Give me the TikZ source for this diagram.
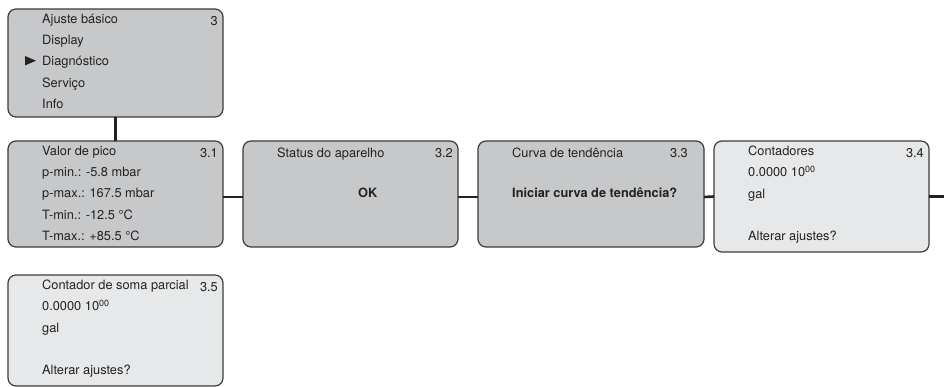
\documentclass[tikz,border=0pt]{standalone}
\usepackage{fontspec}
\setmainfont{TeX Gyre Heros}
\usepackage{tikz}
\usetikzlibrary{positioning}
\definecolor{ink}{HTML}{222222}
\definecolor{frame}{HTML}{3C3C3C}
\definecolor{menugray}{HTML}{C7C8CA}
\definecolor{lightgray}{HTML}{E7E8E9}
\tikzset{
  menubox/.style={draw=frame,line width=1.2pt,rounded corners=8pt,fill=menugray,
    inner sep=0pt,outer sep=0pt,minimum width=215pt,minimum height=106pt},
  countbox/.style={menubox,fill=lightgray,minimum height=111pt},
  rows/.style={font=\fontsize{12.8}{21.2}\selectfont,align=left,inner sep=0pt,
    text=ink,anchor=north west,execute at begin node={\rule{0pt}{11pt}}},
  boxno/.style={font=\fontsize{12.8}{15}\selectfont,inner sep=0pt,text=ink,
    anchor=base east},
  link/.style={line width=2.6pt,draw=ink}
}

\begin{document}
\begin{tikzpicture}[x=1pt,y=-1pt]
  \useasboundingbox (0,0) rectangle (944,387);
  \node[menubox,minimum height=108pt,anchor=north west] (menu) at (8,9) {};
  \node[menubox,below=24pt of menu] (peak) {};
  \node[menubox,right=20pt of peak] (status) {};
  \node[menubox,right=20pt of status,minimum width=226pt] (trend) {};
  \node[countbox,anchor=north west] (counter) at ([xshift=10pt]trend.north east) {};
  \node[countbox,below=28pt of peak] (partial) {};
  \coordinate (exit) at (944,196.5);

  \node[rows] (menutxt) at ([shift={(34pt,-5pt)}]menu.north west)
    {Ajuste básico\\Display\\Diagnóstico\\Serviço\\Info};
  \node[boxno] (menuno) at ([shift={(210pt,-16.5pt)}]menu.north west) {3};
  \fill[ink] ([shift={(17pt,-47pt)}]menu.north west) -- ++(11pt,-4.7pt)
    -- ++(-11pt,-4.7pt) -- cycle;

  \node[rows] (peaktxt) at ([shift={(34pt,-5pt)}]peak.north west)
    {Valor de pico\\p-min.: -5.8 mbar\\p-max.: 167.5 mbar\\T-min.: -12.5 °C\\T-max.: +85.5 °C};
  \node[boxno] (peakno) at ([shift={(210pt,-16.5pt)}]peak.north west) {3.1};

  \node[rows] (statustxt) at ([shift={(34pt,-5pt)}]status.north west) {Status do aparelho};
  \node[boxno,anchor=base west,font=\fontsize{12.8}{15}\selectfont\bfseries] (okmsg)
    at ([shift={(115pt,-56.4pt)}]status.north west) {OK};
  \node[boxno] (statusno) at ([shift={(210pt,-16.5pt)}]status.north west) {3.2};

  \node[rows] (trendtxt) at ([shift={(34pt,-5pt)}]trend.north west) {Curva de tendência};
  \node[boxno,anchor=base west,font=\fontsize{12.8}{15}\selectfont\bfseries] (trendask)
    at ([shift={(34pt,-56.4pt)}]trend.north west) {Iniciar curva de tendência?};
  \node[boxno] (trendno) at ([shift={(210pt,-16.5pt)}]trend.north west) {3.3};

  \node[rows] (countertxt) at ([shift={(34pt,-5pt)}]counter.north west)
    {Contadores\\0.0000 10\textsuperscript{00}\\gal\\\mbox{}\\Alterar ajustes?};
  \node[boxno] (counterno) at ([shift={(210pt,-16.5pt)}]counter.north west) {3.4};

  \node[rows] (partialtxt) at ([shift={(34pt,-5pt)}]partial.north west)
    {Contador de soma parcial\\0.0000 10\textsuperscript{00}\\gal\\\mbox{}\\Alterar ajustes?};
  \node[boxno] (partialno) at ([shift={(210pt,-16.5pt)}]partial.north west) {3.5};

  \draw[link] (menu.south) -- (peak.north);
  \draw[link] ([yshift=-3pt]peak.east) -- ([yshift=-3pt]status.west);
  \draw[link] ([yshift=-3pt]status.east) -- ([yshift=-3pt]trend.west);
  \draw[link] ([yshift=-3pt]trend.east) -- (counter.west);
  \draw[link] (counter.east) -- (exit);
\end{tikzpicture}
\end{document}
